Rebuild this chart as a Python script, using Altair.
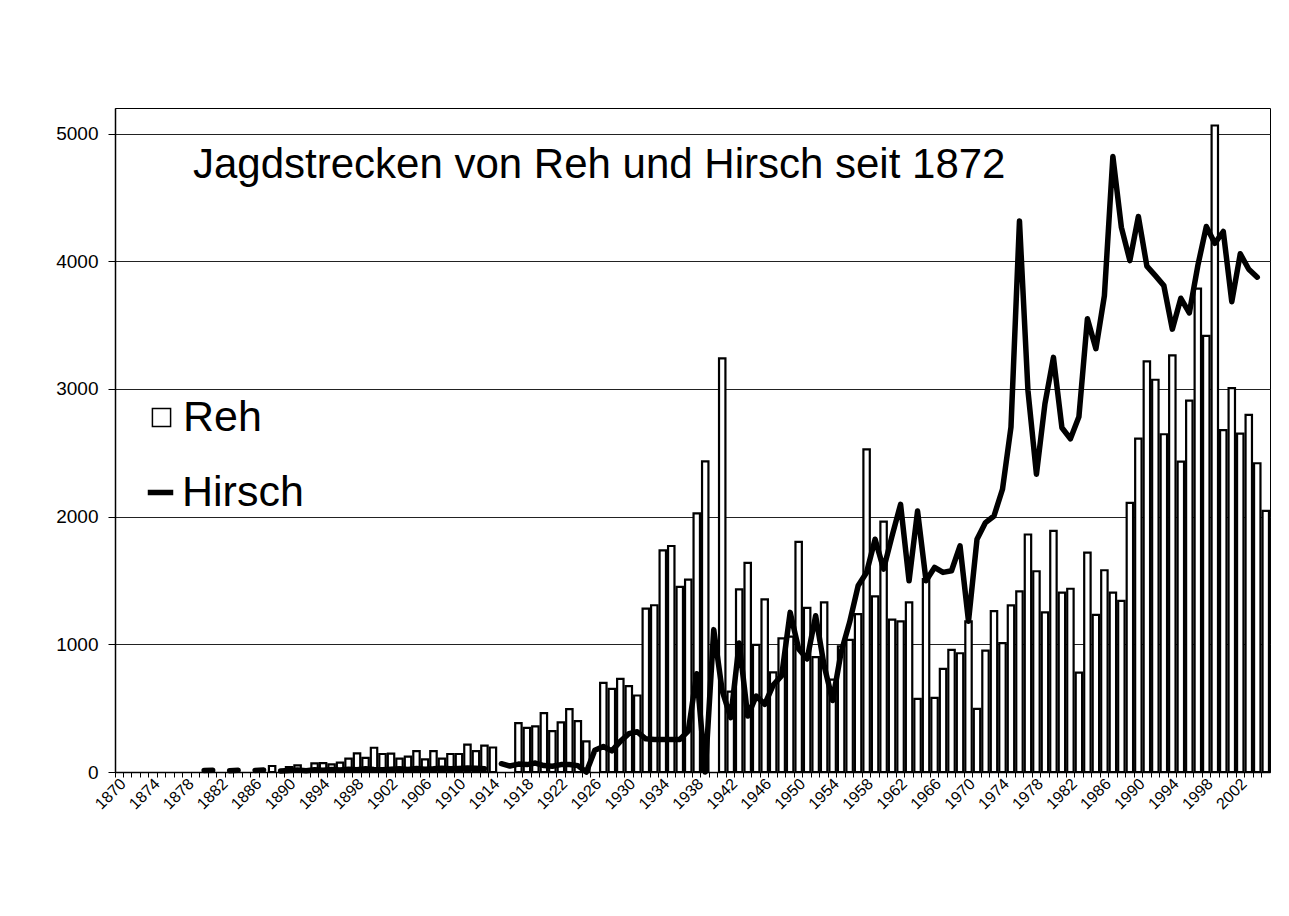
import altair as alt
import pandas as pd

# Categories: one per year
years = list(range(1870, 2006))

# Reh (roe deer) hunting bag, bars
reh = (
    [None] * 18                                                        # 1870-1887
    + [47, None, 39, 52, None, 68, 70, 60, 73, 104, 146, 110, 190,     # 1888-1900
       141, 144, 104, 120, 164, 99, 164, 104, 141, 141, 214, 164, 206, 192]  # 1901-1914
    + [None, None, 383, 346, 357, 461, 320, 388, 492, 398, 240, None]  # 1915-1926
    + [698, 651, 729, 672, 599, 1280, 1306, 1736, 1770, 1450, 1506,    # 1927-1937
       2026, 2433, None, 3240]                                         # 1938-1941
    + [629, 1430, 1637, 995, 1352, 780, 1047, 1060, 1802, 1285, 900,   # 1942-1952
       1328, 724, 984, 1034, 1237, 2526, 1375, 1961]                   # 1953-1960
    + [1193, 1180, 1328, 573, 1510, 581, 807, 956, 930, 1180,          # 1961-1970
       495, 951, 1260, 1010, 1305, 1415, 1860, 1572, 1250, 1889]       # 1971-1980
    + [1405, 1435, 778, 1718, 1230, 1580, 1405, 1340, 2108, 2610,      # 1981-1990
       3215, 3072, 2645, 3262, 2430, 2908, 3785, 3415, 5063, 2678,     # 1991-2000
       3007, 2650, 2797, 2418, 2045]                                   # 2001-2005
)

# Hirsch (red deer) hunting bag, line
hirsch = (
    [None] * 10                                                        # 1870-1879
    + [12, 14, None, 10, 14, None, 12, 16, None, 8]                    # 1880-1889
    + [12, 15, 10, 18, 14, 20, 15, 22, 18, 25]                         # 1890-1899
    + [20, 18, 22, 25, 20, 28, 22, 25, 30, 25]                         # 1900-1909
    + [28, 32, 30, 25, None, 65, 47, 62, 58, 70]                       # 1910-1919
    + [50, 45, 58, 58, 50, 0, 170, 200, 165, 240]                      # 1920-1929
    + [300, 315, 260, 255, 255, 255, 255, 320, 770, 0]                 # 1930-1939
    + [1115, 635, 425, 1010, 438, 595, 530, 680, 755, 1250]            # 1940-1949
    + [964, 885, 1224, 833, 560, 938, 1172, 1458, 1563, 1823]          # 1950-1959
    + [1589, 1849, 2096, 1497, 2044, 1497, 1602, 1563, 1576, 1771]     # 1960-1969
    + [1180, 1823, 1953, 2005, 2214, 2700, 4315, 2986, 2332, 2884]     # 1970-1979
    + [3247, 2696, 2610, 2782, 3550, 3315, 3730, 4820, 4265, 4005]     # 1980-1989
    + [4351, 3962, 3887, 3809, 3468, 3710, 3595, 3965, 4272, 4140]     # 1990-1999
    + [4233, 3683, 4058, 3937, 3875, None]                             # 2000-2005
)

y_ticks = [0, 1000, 2000, 3000, 4000, 5000]

assert len(reh) == len(years) == len(hirsch)

# segment ids so that gaps in the Hirsch series break the line
rows = []
seg = 0
prev_none = True
for yr, r, h in zip(years, reh, hirsch):
    if h is None:
        if not prev_none:
            seg += 1
        prev_none = True
    else:
        prev_none = False
    rows.append({"year": yr, "reh": r, "hirsch": h, "seg": seg})
df = pd.DataFrame(rows)

FONT = "Liberation Sans"

x_enc = alt.X(
    "year:O",
    scale=alt.Scale(domain=years, paddingInner=0, paddingOuter=0),
    axis=alt.Axis(
        title=None,
        bandPosition=0,
        labelAngle=315,
        labelAlign="right",
        labelBaseline="middle",
        labelFontSize=16,
        labelPadding=4,
        labelOffset=4,
        labelOverlap=False,
        labelExpr="(+datum.value) % 4 == 2 ? datum.label : ''",
        tickSize=5,
        grid=False,
    ),
)

y_scale = alt.Scale(domain=[0, 5200], nice=False)
y_axis = alt.Axis(
    title=None,
    values=y_ticks,
    format="d",
    labelFontSize=19,
    labelPadding=10,
    tickSize=7,
    grid=True,
    gridColor="#222222",
    gridWidth=1,
)

bars = (
    alt.Chart(df)
    .transform_filter("datum.reh != null")
    .transform_calculate(series="'Reh'")
    .mark_bar(size=6.4, stroke="black", strokeWidth=2.2)
    .encode(
        x=x_enc,
        y=alt.Y("reh:Q", scale=y_scale, axis=y_axis),
        fill=alt.Fill(
            "series:N",
            scale=alt.Scale(domain=["Reh"], range=["white"]),
            legend=alt.Legend(
                title=None,
                orient="none",
                legendX=15,
                legendY=288,
                symbolType="square",
                symbolSize=330,
                symbolOffset=10,
                symbolStrokeColor="black",
                symbolStrokeWidth=1.5,
                symbolFillColor="white",
                labelFont=FONT,
                labelFontSize=43,
                labelColor="black",
                labelOffset=0,
            ),
        ),
    )
)

line = (
    alt.Chart(df)
    .transform_filter("datum.hirsch != null")
    .transform_calculate(series2="'Hirsch'")
    .mark_line(strokeWidth=5.5, strokeJoin="round", strokeCap="round")
    .encode(
        x=x_enc,
        y=alt.Y("hirsch:Q", scale=y_scale, axis=y_axis),
        detail="seg:N",
        stroke=alt.Stroke(
            "series2:N",
            scale=alt.Scale(domain=["Hirsch"], range=["black"]),
            legend=alt.Legend(
                title=None,
                orient="none",
                legendX=16,
                legendY=363,
                symbolType="stroke",
                symbolSize=650,
                symbolOffset=8,
                symbolStrokeWidth=5.5,
                symbolStrokeColor="black",
                labelFont=FONT,
                labelFontSize=43,
                labelColor="black",
                labelOffset=0,
            ),
        ),
    )
)

chart = (
    alt.layer(bars, line)
    .resolve_legend(fill="independent", stroke="independent")
    .properties(
        width=1155,
        height=664,
        padding={"left": 107, "top": 100, "right": 10, "bottom": 120},
        autosize=alt.AutoSizeParams(type="none"),
        title=alt.TitleParams(
            text="Jagdstrecken von Reh und Hirsch seit 1872",
            anchor="start",
            frame="group",
            orient="top",
            dx=78,
            offset=-112,
            baseline="alphabetic",
            font=FONT,
            fontSize=42,
            fontWeight="normal",
            color="black",
        ),
        background="white",
    )
    .configure_view(stroke="black", strokeWidth=1)
    .configure_axis(
        labelFont=FONT,
        labelColor="black",
        domainColor="black",
        domainWidth=1.5,
        tickColor="black",
    )
)

chart.save("out.html", embed_options={"renderer": "svg", "actions": False})
